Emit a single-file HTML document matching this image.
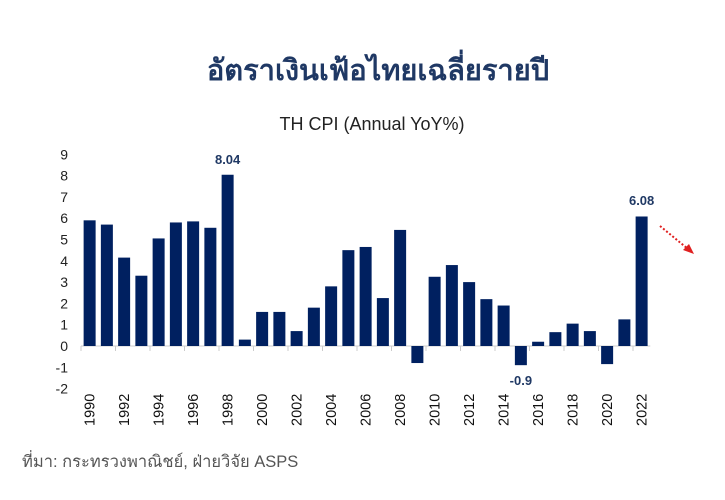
<!DOCTYPE html>
<html><head><meta charset="utf-8"><style>
body{margin:0;width:725px;height:495px;background:#fff;overflow:hidden;font-family:"Liberation Sans","Noto Sans CJK SC",sans-serif}
</style></head><body>
<svg width="725" height="495" xmlns="http://www.w3.org/2000/svg" font-family="Liberation Sans, Noto Sans CJK SC, sans-serif">
<text x="378" y="80" text-anchor="middle" font-size="29" font-weight="bold" fill="#1f3864">อัตราเงินเฟ้อไทยเฉลี่ยรายปี</text>
<text x="372" y="130" text-anchor="middle" font-size="18" fill="#222">TH CPI (Annual YoY%)</text>
<g id="g"></g>
<text x="22" y="467" font-size="16.5" fill="#555">ที่มา:  กระทรวงพาณิชย์, ฝ่ายวิจัย ASPS</text>
<line x1="660" y1="226" x2="688" y2="249" stroke="#e02020" stroke-width="2" stroke-dasharray="2,2"/>
<polygon points="694,254 683,250 689,244" fill="#e02020"/>
</svg>
<script>
var v=[5.9,5.7,4.15,3.3,5.05,5.8,5.85,5.55,8.04,0.3,1.6,1.6,0.7,1.8,2.8,4.5,4.65,2.25,5.45,-0.8,3.25,3.8,3.0,2.2,1.9,-0.9,0.2,0.65,1.05,0.7,-0.85,1.25,6.08];
var z=346,u=21.3,x0=81,w=17.25,s='';
for(var k=-2;k<=9;k++)s+='<text x="68" y="'+(z-k*u+5)+'" text-anchor="end" font-size="14" fill="#222">'+k+'</text>';
s+='<line x1="'+x0+'" y1="'+z+'" x2="'+(x0+33*w)+'" y2="'+z+'" stroke="#ccc"/>';
for(var i=0;i<33;i++){var c=x0+w*(i+0.5),h=v[i]*u;
s+='<rect x="'+(c-6)+'" y="'+(h>0?z-h:z)+'" width="12" height="'+Math.abs(h)+'" fill="#002060"/>';
if(i%2==0){s+='<line x1="'+(x0+i*w)+'" y1="'+z+'" x2="'+(x0+i*w)+'" y2="'+(z+5)+'" stroke="#ccc"/>';
s+='<text transform="translate('+(c+5)+',426) rotate(-90)" font-size="14.5" fill="#111">'+(1990+i)+'</text>';}}
s+='<text x="'+(x0+w*8.5)+'" y="164" text-anchor="middle" font-size="13" font-weight="bold" fill="#1f3864">8.04</text>';
s+='<text x="'+(x0+w*32.5)+'" y="205" text-anchor="middle" font-size="13" font-weight="bold" fill="#1f3864">6.08</text>';
s+='<text x="'+(x0+w*25.5)+'" y="385" text-anchor="middle" font-size="13" font-weight="bold" fill="#1f3864">-0.9</text>';
document.getElementById('g').innerHTML=s;
</script>
</body></html>
